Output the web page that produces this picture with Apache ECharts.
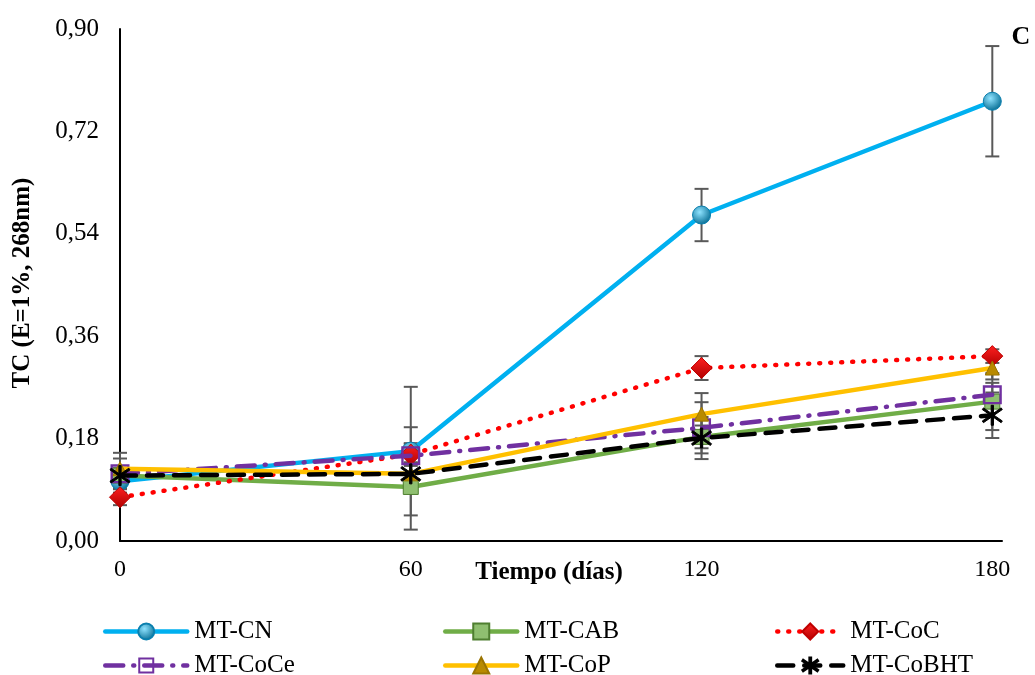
<!DOCTYPE html>
<html>
<head>
<meta charset="utf-8">
<script src="https://cdn.jsdelivr.net/npm/echarts@6/dist/echarts.min.js"></script>
<style>
html,body{margin:0;padding:0;background:#fff;}
#c{width:1035px;height:675px;}
</style>
</head>
<body>
<div id="c"></div>
<script>
// ---- data ----
const days = [0, 60, 120, 180];
const xTickLabels = ['0', '60', '120', '180'];
const yTickLabels = ['0,00', '0,18', '0,36', '0,54', '0,72', '0,90'];
const seriesNames = ['MT-CN', 'MT-CAB', 'MT-CoC', 'MT-CoCe', 'MT-CoP', 'MT-CoBHT'];

const cnValues    = [0.105, 0.158, 0.573, 0.773];
const cabValues   = [0.115, 0.095, 0.183, 0.245];
const cocValues   = [0.077, 0.152, 0.304, 0.325];
const coceValues  = [0.118, 0.150, 0.199, 0.257];
const copValues   = [0.127, 0.118, 0.223, 0.304];
const cobhtValues = [0.115, 0.118, 0.181, 0.221];

const cnErr    = [0.012, 0.113, 0.046, 0.097];
const cabErr   = [0.030, 0.075, 0.020, 0.050];
const cocErr   = [0.014, 0.020, 0.021, 0.012];
const coceErr  = [0.010, 0.050, 0.045, 0.021];
const copErr   = [0.028, 0.020, 0.037, 0.020];
const cobhtErr = [0.012, 0.020, 0.037, 0.040];

const xTitle = 'Tiempo (días)';
const yTitle = 'TC (E=1%, 268nm)';
const panelLabel = 'C';

// ---- build ----
const FONT = '"Liberation Serif", "Times New Roman", serif';
const allValues = [cnValues, cabValues, cocValues, coceValues, copValues, cobhtValues];
const allErrs = [cnErr, cabErr, cocErr, coceErr, copErr, cobhtErr];

const pair = (vals) => days.map((d, i) => [d, vals[i]]);

const starPath = 'path://M9,0H11V20H9Z M1.2,4.3L2.2,2.6L18.8,15.7L17.8,17.4Z M1.2,15.7L17.8,2.6L18.8,4.3L2.2,17.4Z';
const hollowSquare = 'path://M0,0H20V20H0Z M2.5,2.5V17.5H17.5V2.5Z M8.5,8.5H11.5V11.5H8.5Z';

const styles = [
  { color: '#00B0F0', type: 'solid', symbol: 'circle', size: 18,
    itemColor: { type: 'radial', x: 0.4, y: 0.35, r: 0.7, colorStops: [{offset: 0, color: '#8fe3ff'}, {offset: 1, color: '#00688f'}] }, border: '#0a7fae' },
  { color: '#70AD47', type: 'solid', symbol: 'rect', size: 15,
    itemColor: '#8fbf70', border: '#4f7f30' },
  { color: '#FF0000', type: [1, 10], symbol: 'diamond', size: 21,
    itemColor: { type: 'linear', x: 0, y: 0, x2: 0, y2: 1, colorStops: [{offset: 0, color: '#ff2020'}, {offset: 1, color: '#b00000'}] }, border: '#c00000' },
  { color: '#7030A0', type: [18, 10, 1, 10], symbol: hollowSquare, size: 19,
    itemColor: '#7030A0', border: '#7030A0' },
  { color: '#FFC000', type: 'solid', symbol: 'triangle', size: 14,
    itemColor: '#b88a00', border: '#9a7400' },
  { color: '#000000', type: [16, 11], symbol: starPath, size: 20,
    itemColor: '#000000', border: '#000000' }
];

const series = [];
// error bars
allValues.forEach((vals, si) => {
  series.push({
    type: 'custom',
    name: seriesNames[si] + ' err',
    z: 1,
    silent: true,
    data: days.map((d, i) => [d, vals[i] - allErrs[si][i], vals[i] + allErrs[si][i]]),
    renderItem: function (params, api) {
      const x = api.value(0);
      const top = api.coord([x, api.value(2)]);
      const bot = api.coord([x, api.value(1)]);
      const w = 7;
      const st = { stroke: '#595959', lineWidth: 2 };
      return {
        type: 'group',
        children: [
          { type: 'line', shape: { x1: top[0], y1: top[1], x2: bot[0], y2: bot[1] }, style: st },
          { type: 'line', shape: { x1: top[0] - w, y1: top[1], x2: top[0] + w, y2: top[1] }, style: st },
          { type: 'line', shape: { x1: bot[0] - w, y1: bot[1], x2: bot[0] + w, y2: bot[1] }, style: st }
        ]
      };
    }
  });
});
// lines
allValues.forEach((vals, si) => {
  const s = styles[si];
  series.push({
    type: 'line',
    name: seriesNames[si],
    z: 3 + si,
    data: pair(vals),
    symbol: s.symbol,
    symbolSize: s.size,
    showAllSymbol: true,
    lineStyle: { color: s.color, width: 4.5, type: s.type, cap: 'round' },
    itemStyle: { color: s.itemColor, borderColor: s.border, borderWidth: si === 3 ? 0 : 1 },
    emphasis: { disabled: true }
  });
});

const legendPos = [
  { left: 103, top: 619, w: 82 }, { left: 443, top: 619, w: 72 }, { left: 775, top: 619, w: 66 },
  { left: 103, top: 653, w: 82 }, { left: 443, top: 653, w: 72 }, { left: 775, top: 653, w: 66 }
];
const legends = seriesNames.map((n, i) => ({
  data: [n],
  left: legendPos[i].left,
  top: legendPos[i].top,
  padding: 0,
  itemWidth: legendPos[i].w,
  itemHeight: 20,
  itemGap: 0,
  lineStyle: { width: 4.5 },
  textStyle: { fontFamily: FONT, fontSize: 25, color: '#000', padding: [0, 0, 0, 2] },
  selectedMode: false
}));

const chart = echarts.init(document.getElementById('c'), null, { renderer: 'canvas' });
chart.setOption({
  animation: false,
  backgroundColor: '#fff',
  grid: { left: 120, right: 33, top: 29, bottom: 134, containLabel: false },
  xAxis: {
    type: 'value', min: 0, max: 182, interval: 60,
    axisLine: { lineStyle: { color: '#000', width: 2 } },
    axisTick: { show: false },
    splitLine: { show: false },
    axisLabel: {
      showMaxLabel: false,
      margin: 17,
      fontFamily: FONT, fontSize: 24, color: '#000',
      formatter: (v) => { const i = days.indexOf(v); return i >= 0 ? xTickLabels[i] : ''; }
    }
  },
  yAxis: {
    type: 'value', min: 0, max: 0.9, interval: 0.18,
    axisLine: { show: true, lineStyle: { color: '#000', width: 2 } },
    axisTick: { show: false },
    splitLine: { show: false },
    axisLabel: {
      margin: 21,
      fontFamily: FONT, fontSize: 25, color: '#000',
      formatter: (v) => yTickLabels[Math.round(v / 0.18)]
    }
  },
  legend: legends,
  series: series,
  graphic: [
    { type: 'text', x: 549, y: 573, style: { text: xTitle, font: 'bold 25px ' + FONT, fill: '#000', textAlign: 'center', textVerticalAlign: 'middle' } },
    { type: 'text', x: 23, y: 283, rotation: Math.PI / 2, style: { text: yTitle, font: 'bold 25px ' + FONT, fill: '#000', textAlign: 'center', textVerticalAlign: 'middle' } },
    { type: 'text', x: 1021, y: 37, style: { text: panelLabel, font: 'bold 26px ' + FONT, fill: '#000', textAlign: 'center', textVerticalAlign: 'middle' } }
  ]
});
</script>
</body>
</html>
